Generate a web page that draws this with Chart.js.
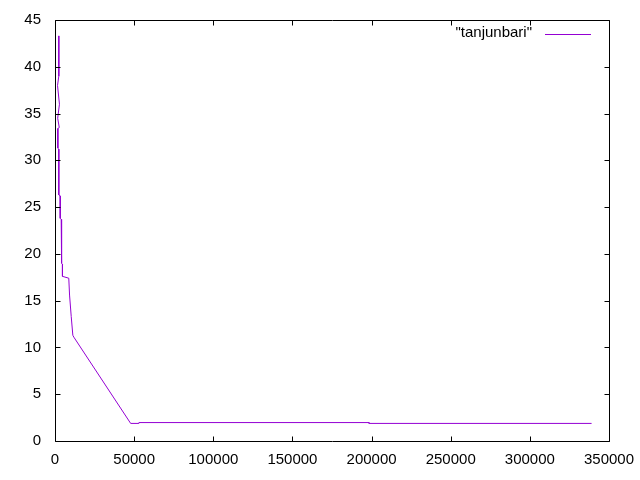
<!DOCTYPE html>
<html>
<head>
<meta charset="utf-8">
<script src="https://cdn.jsdelivr.net/npm/chart.js@4/dist/chart.umd.min.js"></script>
<style>
  html, body { margin: 0; padding: 0; background: #ffffff; }
  #c { display: block; }
</style>
</head>
<body>
<canvas id="c" width="640" height="480"></canvas>
<script>
const seriesName = '"tanjunbari"';
const xValues = [2400, 2400, 1600, 2800, 1700, 2700, 1800, 1800, 2400, 2400, 3300, 3300, 3900, 3900, 4300, 4300, 4700, 4700, 8700, 9200, 10250, 11270, 11900, 47800, 53000, 53000, 198400, 198400, 339000];
const yValues = [43.3, 39.0, 38.0, 36.0, 34.5, 33.5, 33.4, 31.3, 31.2, 26.3, 26.2, 23.8, 23.7, 21.5, 21.4, 19.0, 18.9, 17.6, 17.4, 15.6, 13.3, 11.3, 11.1, 1.88, 1.88, 1.97, 1.97, 1.88, 1.88];
const xTickValues = [0, 50000, 100000, 150000, 200000, 250000, 300000, 350000];
const yTickValues = [0, 5, 10, 15, 20, 25, 30, 35, 40, 45];

const lineColor = '#9400d3';
const fontSpec = { family: '"Liberation Sans", Arial, sans-serif', size: 15 };

const points = xValues.map((x, i) => ({ x: x, y: yValues[i] }));

const framePlugin = {
  id: 'gnuplotFrame',
  afterDraw(chart) {
    const ctx = chart.ctx;
    const a = chart.chartArea;
    const xs = chart.scales.x, ys = chart.scales.y;
    const L = Math.round(a.left) + 0.5, R = Math.round(a.right) + 0.5;
    const T = Math.round(a.top) + 0.5, B = Math.round(a.bottom) + 0.5;
    const tl = 5;
    ctx.save();
    ctx.strokeStyle = '#000000';
    ctx.lineWidth = 1;
    ctx.beginPath();
    ctx.rect(L, T, R - L, B - T);
    ctx.stroke();
    ctx.beginPath();
    xTickValues.forEach(v => {
      const px = Math.round(xs.getPixelForValue(v)) + 0.5;
      ctx.moveTo(px, B); ctx.lineTo(px, B - tl);
      ctx.moveTo(px, T); ctx.lineTo(px, T + tl);
    });
    yTickValues.forEach(v => {
      const py = Math.round(ys.getPixelForValue(v)) + 0.5;
      ctx.moveTo(L, py); ctx.lineTo(L + tl, py);
      ctx.moveTo(R, py); ctx.lineTo(R - tl, py);
    });
    ctx.stroke();
    // legend (gnuplot style: text then line sample)
    const ds = chart.data.datasets[0];
    ctx.font = fontSpec.size + 'px ' + fontSpec.family;
    ctx.fillStyle = '#000000';
    ctx.textAlign = 'right';
    ctx.textBaseline = 'middle';
    ctx.fillText(ds.label, 532, 33);
    ctx.strokeStyle = ds.borderColor;
    ctx.beginPath();
    ctx.moveTo(545, 34.5);
    ctx.lineTo(591, 34.5);
    ctx.stroke();
    ctx.restore();
  }
};

new Chart(document.getElementById('c'), {
  type: 'scatter',
  data: {
    datasets: [{
      label: seriesName,
      data: points,
      showLine: true,
      borderColor: lineColor,
      backgroundColor: lineColor,
      borderWidth: 1,
      pointRadius: 0,
      tension: 0
    }]
  },
  options: {
    responsive: false,
    animation: false,
    devicePixelRatio: 1,
    layout: { padding: { left: 0, right: 31, top: 20, bottom: 0 } },
    plugins: { legend: { display: false }, tooltip: { enabled: false } },
    scales: {
      x: {
        type: 'linear',
        min: 0, max: 350000,
        afterBuildTicks(scale) { scale.ticks = xTickValues.map(v => ({ value: v })); },
        afterFit(scale) { scale.height = 39; scale.paddingLeft = 0; scale.paddingRight = 0; },
        grid: { display: false, drawTicks: false },
        border: { display: false },
        ticks: {
          font: fontSpec, color: '#000000', padding: 10,
          maxRotation: 0, autoSkip: false,
          callback: v => String(v)
        }
      },
      y: {
        type: 'linear',
        min: 0, max: 45,
        afterBuildTicks(scale) { scale.ticks = yTickValues.map(v => ({ value: v })); },
        afterFit(scale) { scale.width = 55; scale.paddingTop = 0; scale.paddingBottom = 0; },
        grid: { display: false, drawTicks: false },
        border: { display: false },
        ticks: {
          font: fontSpec, color: '#000000', padding: 14,
          autoSkip: false,
          callback: v => String(v)
        }
      }
    }
  },
  plugins: [framePlugin]
});
</script>
</body>
</html>
